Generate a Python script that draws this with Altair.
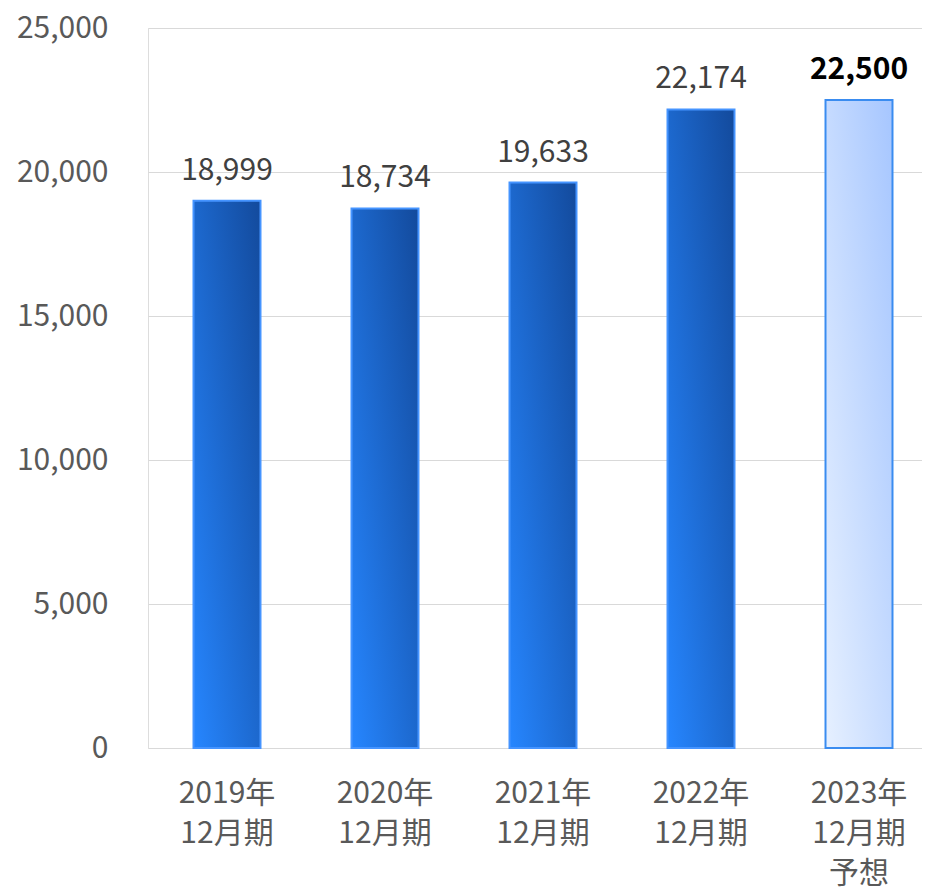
import altair as alt
import pandas as pd

categories = ["2019年\n12月期", "2020年\n12月期", "2021年\n12月期", "2022年\n12月期", "2023年\n12月期\n予想"]
values = [18999, 18734, 19633, 22174, 22500]
forecast = [False, False, False, False, True]
y_ticks = [0, 5000, 10000, 15000, 20000, 25000]

df = pd.DataFrame({"cat": categories, "value": values, "forecast": forecast})

FONT = "Noto Sans CJK JP"

x_enc = alt.X(
    "cat:N",
    sort=categories,
    title=None,
    scale=alt.Scale(paddingInner=0.576, paddingOuter=0.288, range=[0, 790]),
    axis=alt.Axis(
        labelAngle=0,
        labelExpr="split(datum.label, '\\n')",
        labelFont=FONT,
        labelFontSize=30,
        labelColor="#595959",
        labelLineHeight=40,
        labelPadding=30,
        labelBaseline="top",
        ticks=False,
        domain=False,
        grid=False,
    ),
)
y_enc = alt.Y(
    "value:Q",
    title=None,
    scale=alt.Scale(domain=[0, 25000], nice=False),
    axis=alt.Axis(
        values=y_ticks,
        format=",d",
        labelFont=FONT,
        labelFontSize=30,
        labelColor="#595959",
        labelPadding=40,
        ticks=False,
        domain=False,
        gridColor="#d9d9d9",
        gridWidth=1.2,
    ),
)

grad_actual = alt.Gradient(
    gradient="linear",
    x1=0, y1=1, x2=1, y2=0,
    stops=[alt.GradientStop(offset=0, color="#2686ff"),
           alt.GradientStop(offset=1, color="#134a9c")],
)
grad_fc = alt.Gradient(
    gradient="linear",
    x1=0, y1=1, x2=1, y2=0,
    stops=[alt.GradientStop(offset=0, color="#e6f0ff"),
           alt.GradientStop(offset=1, color="#a6c6ff")],
)

base = alt.Chart(df)

bars_actual = base.transform_filter("!datum.forecast").mark_bar(
    fill=grad_actual, stroke="#4594ff", strokeWidth=2
).encode(x=x_enc, y=y_enc)

bars_fc = base.transform_filter("datum.forecast").mark_bar(
    fill=grad_fc, stroke="#3a8cf0", strokeWidth=2
).encode(x=x_enc, y=y_enc)

labels_actual = base.transform_filter("!datum.forecast").mark_text(
    font=FONT, fontSize=30, color="#404040", baseline="alphabetic", dy=-21
).encode(x=alt.X("cat:N", sort=categories), y="value:Q", text=alt.Text("value:Q", format=",d"))

labels_fc = base.transform_filter("datum.forecast").mark_text(
    font=FONT, fontSize=30, fontWeight="bold", color="#000000", baseline="alphabetic", dy=-21
).encode(x=alt.X("cat:N", sort=categories), y="value:Q", text=alt.Text("value:Q", format=",d"))

chart = alt.layer(bars_actual, bars_fc, labels_actual, labels_fc).properties(
    width=774,
    height=720,
    autosize=alt.AutoSizeParams(type="none"),
    padding={"left": 140, "top": 20, "right": 0, "bottom": 140},
).configure_view(stroke=None).configure(background="white")

chart.save("out.html", embed_options={"renderer": "svg", "actions": False})
